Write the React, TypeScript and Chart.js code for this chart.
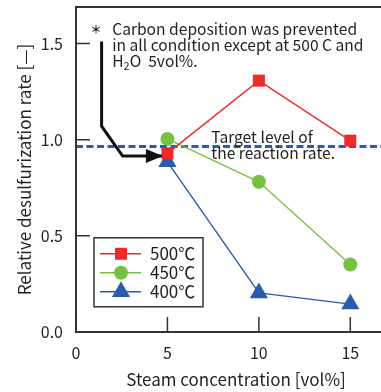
import React, { useEffect, useRef } from "react";
import { Chart, registerables } from "chart.js";

Chart.register(...registerables);

// ---- data ----
const steamX = [5, 10, 15];
const rate500 = [0.929, 1.307, 0.995];
const rate450 = [1.004, 0.781, 0.351];
const rate400 = [0.885, 0.203, 0.145];
const seriesLabels = ["500℃", "450℃", "400℃"];
const xTicks = [0, 5, 10, 15];
const yTicks = [0, 0.5, 1.0, 1.5];
const targetLevel = 0.964;
const arrowX = [1.4, 1.4, 2.55, 4.75];
const arrowY = [1.51, 1.07, 0.915, 0.915];
const noteLines = [
  "Carbon deposition was prevented",
  "in all condition except at 500 C and",
];
const targetLines = ["Target level of", "the reaction rate."];

const FONT = "'Noto Sans CJK JP', 'Noto Sans', sans-serif";
const TEXT = "#231f20";
const RED = "#ee2a2b";
const GREEN = "#77c142";
const BLUE = "#2b5cab";
const DASH = "#2a5db0";

function drawMarker(ctx: CanvasRenderingContext2D, style: string, x: number, y: number, r: number, c: string) {
  ctx.fillStyle = c;
  ctx.beginPath();
  if (style === "rect") {
    const s = Math.SQRT1_2 * r;
    ctx.rect(x - s, y - s, 2 * s, 2 * s);
  } else if (style === "circle") {
    ctx.arc(x, y, r, 0, Math.PI * 2);
  } else {
    for (let k = 0; k < 3; k++) {
      const ang = (k * 2 * Math.PI) / 3;
      const px = x + Math.sin(ang) * r;
      const py = y - Math.cos(ang) * r;
      if (k === 0) ctx.moveTo(px, py);
      else ctx.lineTo(px, py);
    }
    ctx.closePath();
  }
  ctx.fill();
}

const overlay = {
  id: "overlay",
  afterDatasetsDraw(chart: any) {
    const ctx = chart.ctx;
    const xs = chart.scales.x;
    const ys = chart.scales.y;
    const a = chart.chartArea;
    ctx.save();
    // frame
    ctx.strokeStyle = "#333";
    ctx.lineWidth = 2;
    ctx.strokeRect(a.left, a.top, a.right - a.left, a.bottom - a.top);
    // inner ticks
    ctx.lineWidth = 1.5;
    ctx.beginPath();
    yTicks.forEach((v) => {
      const y = ys.getPixelForValue(v);
      ctx.moveTo(a.left, y);
      ctx.lineTo(a.left + 14, y);
    });
    xTicks.forEach((v) => {
      const x = xs.getPixelForValue(v);
      ctx.moveTo(x, a.bottom);
      ctx.lineTo(x, a.bottom - 15);
    });
    ctx.stroke();

    // arrowhead at end of arrow path
    const n = arrowX.length;
    const tx = xs.getPixelForValue(arrowX[n - 1]);
    const ty = ys.getPixelForValue(arrowY[n - 1]);
    ctx.fillStyle = "#111";
    ctx.beginPath();
    ctx.moveTo(tx, ty);
    ctx.lineTo(tx - 17, ty - 7);
    ctx.lineTo(tx - 17, ty + 7);
    ctx.closePath();
    ctx.fill();

    // annotation text
    ctx.fillStyle = TEXT;
    ctx.textBaseline = "middle";
    ctx.textAlign = "left";
    ctx.font = `15.6px ${FONT}`;
    const nx = xs.getPixelForValue(1.98);
    ctx.fillText(noteLines[0], nx, ys.getPixelForValue(1.575));
    ctx.fillText(noteLines[1], nx, ys.getPixelForValue(1.49));
    const y3 = ys.getPixelForValue(1.41);
    ctx.fillText("H", nx, y3);
    let w = ctx.measureText("H").width;
    ctx.font = `11px ${FONT}`;
    ctx.fillText("2", nx + w, y3 + 5);
    w += ctx.measureText("2").width;
    ctx.font = `15.6px ${FONT}`;
    ctx.fillText("O  5vol%.", nx + w, y3);
    ctx.font = `bold 11px ${FONT}`;
    ctx.textAlign = "center";
    ctx.fillText("＊", xs.getPixelForValue(1.09), ys.getPixelForValue(1.572));
    ctx.textAlign = "left";

    ctx.font = `15.6px ${FONT}`;
    const tX = xs.getPixelForValue(7.4);
    ctx.fillText(targetLines[0], tX, ys.getPixelForValue(1.012));
    ctx.fillText(targetLines[1], tX, ys.getPixelForValue(0.928));

    // legend
    const lx = a.left + 18;
    const ly = ys.getPixelForValue(0.49);
    const lw = 109;
    const lh = 69;
    ctx.fillStyle = "#fff";
    ctx.fillRect(lx, ly, lw, lh);
    ctx.strokeStyle = "#333";
    ctx.lineWidth = 1.5;
    ctx.strokeRect(lx, ly, lw, lh);
    const colors = [RED, GREEN, BLUE];
    const styles = ["rect", "circle", "triangle"];
    const radii = [8.5, 7, 10.5];
    colors.forEach((c, i) => {
      const yy = ly + 16 + i * 19;
      ctx.strokeStyle = c;
      ctx.lineWidth = 1.4;
      ctx.beginPath();
      ctx.moveTo(lx + 6, yy);
      ctx.lineTo(lx + 47, yy);
      ctx.stroke();
      drawMarker(ctx, styles[i], lx + 27, yy, radii[i], c);
      ctx.fillStyle = TEXT;
      ctx.font = `17px ${FONT}`;
      ctx.textBaseline = "middle";
      ctx.fillText(seriesLabels[i], lx + 56, yy);
    });
    ctx.restore();
  },
};

export default function App() {
  const ref = useRef<HTMLCanvasElement | null>(null);
  useEffect(() => {
    document.body.style.margin = "0";
    const pts = (ys: number[]) => steamX.map((x, i) => ({ x, y: ys[i] }));
    const chart = new Chart(ref.current!, {
      type: "scatter",
      data: {
        datasets: [
          {
            label: seriesLabels[0],
            data: pts(rate500),
            showLine: true,
            borderColor: RED,
            backgroundColor: RED,
            borderWidth: 1.4,
            pointStyle: "rect",
            pointRadius: 8.5,
            pointBorderWidth: 0,
            order: 1,
          },
          {
            label: seriesLabels[1],
            data: pts(rate450),
            showLine: true,
            borderColor: GREEN,
            backgroundColor: GREEN,
            borderWidth: 1.4,
            pointStyle: "circle",
            pointRadius: 7,
            pointBorderWidth: 0,
            order: 2,
          },
          {
            label: seriesLabels[2],
            data: pts(rate400),
            showLine: true,
            borderColor: BLUE,
            backgroundColor: BLUE,
            borderWidth: 1.4,
            pointStyle: "triangle",
            pointRadius: 10.5,
            pointBorderWidth: 0,
            order: 3,
          },
          {
            label: "target",
            data: [
              { x: 0, y: targetLevel },
              { x: 17.5, y: targetLevel },
            ],
            showLine: true,
            borderColor: DASH,
            borderWidth: 3,
            borderDash: [7, 3.5],
            pointRadius: 0,
            order: 5,
          },
          {
            label: "arrow",
            data: arrowX.map((x, i) => ({ x, y: arrowY[i] })),
            showLine: true,
            borderColor: "#111",
            borderWidth: 3,
            pointRadius: 0,
            order: 4,
          },
        ],
      },
      options: {
        animation: false,
        responsive: false,
        events: [],
        layout: { autoPadding: false, padding: { top: 7, left: 0, right: 0, bottom: 0 } },
        plugins: { legend: { display: false }, tooltip: { enabled: false } },
        scales: {
          x: {
            type: "linear",
            min: 0,
            max: 17.5,
            grid: { display: false, drawTicks: false },
            border: { display: false },
            afterBuildTicks: (s: any) => {
              s.ticks = xTicks.map((v) => ({ value: v }));
            },
            afterFit: (s: any) => {
              s.height = 60;
              s.paddingLeft = 0;
              s.paddingRight = 0;
            },
            ticks: {
              padding: 11,
              color: TEXT,
              font: { family: FONT, size: 16 },
            },
            title: {
              display: true,
              text: "Steam concentration [vol%]",
              color: TEXT,
              font: { family: FONT, size: 17 },
              padding: { top: 0, bottom: 2 },
            },
          },
          y: {
            type: "linear",
            min: 0,
            max: 1.69,
            grid: { display: false, drawTicks: false },
            border: { display: false },
            afterBuildTicks: (s: any) => {
              s.ticks = yTicks.map((v) => ({ value: v }));
            },
            afterFit: (s: any) => {
              s.width = 76;
              s.paddingTop = 0;
              s.paddingBottom = 0;
            },
            ticks: {
              padding: 13,
              color: TEXT,
              font: { family: FONT, size: 16 },
              callback: (v: any) => Number(v).toFixed(1),
            },
            title: {
              display: true,
              text: "Relative desulfurization rate [—]",
              color: TEXT,
              font: { family: FONT, size: 17 },
              padding: { top: 14, bottom: 0 },
            },
          },
        },
      },
      plugins: [overlay],
    } as any);
    return () => chart.destroy();
  }, []);
  return (
    <div style={{ position: "absolute", left: 0, top: 0, width: 381, height: 392, overflow: "hidden", background: "#fff" }}>
      <canvas ref={ref} width={396} height={392} style={{ display: "block" }} />
    </div>
  );
}
